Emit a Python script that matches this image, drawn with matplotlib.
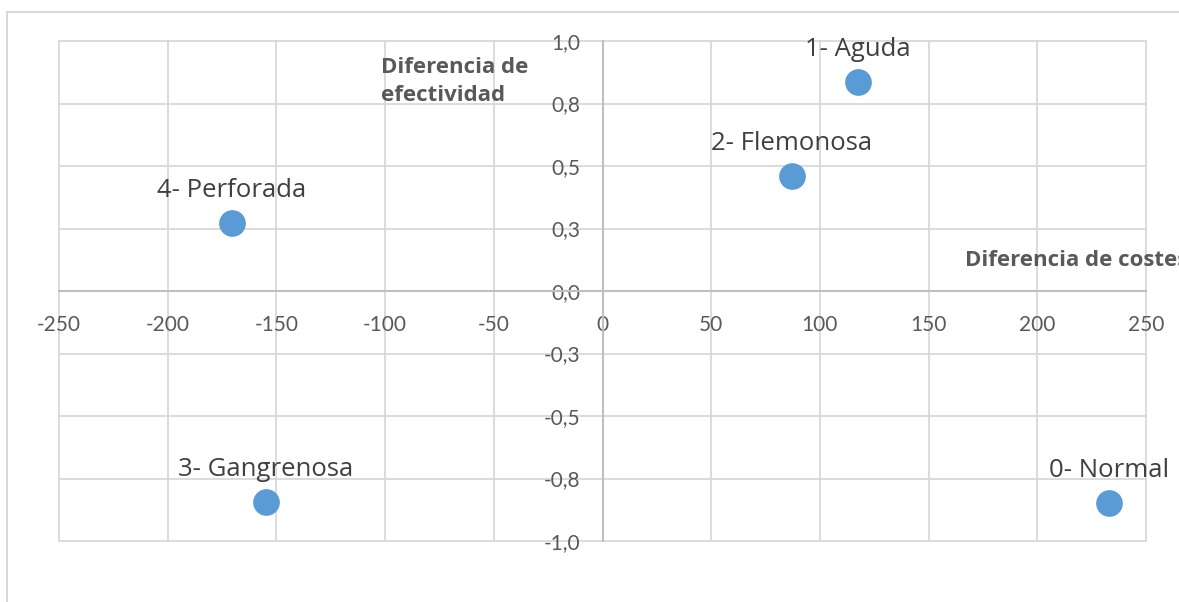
import numpy as np
import matplotlib
matplotlib.use("Agg")
import matplotlib.pyplot as plt
from matplotlib.patches import Rectangle

# ---- data ----
labels = ["0- Normal", "1- Aguda", "2- Flemonosa", "3- Gangrenosa", "4- Perforada"]
cost_diff = [233, 117.5, 87, -155, -170.5]
eff_diff = [-0.848, 0.836, 0.46, -0.845, 0.272]

x_ticks = [-250, -200, -150, -100, -50, 0, 50, 100, 150, 200, 250]
x_tick_labels = ["-250", "-200", "-150", "-100", "-50", "0", "50", "100", "150", "200", "250"]
y_ticks = [-1.0, -0.75, -0.5, -0.25, 0.0, 0.25, 0.5, 0.75, 1.0]
y_tick_labels = ["-1,0", "-0,8", "-0,5", "-0,3", "0,0", "0,3", "0,5", "0,8", "1,0"]

x_title = "Diferencia de costes"
y_title = "Diferencia de\nefectividad"

# ---- style ----
plt.rcParams['font.family'] = ['Lato', 'DejaVu Sans']
W, H = 1179, 602
fig = plt.figure(figsize=(W / 100, H / 100), dpi=100)

# chart area border
fig.patches.append(Rectangle((7 / W, -0.1), 1.2, (H - 12) / H + 0.1, transform=fig.transFigure,
                             fill=False, edgecolor='#d9d9d9', linewidth=1.5, zorder=0))

left, right, top, bottom = 59, 1146, 41, 541
ax = fig.add_axes([left / W, (H - bottom) / H, (right - left) / W, (bottom - top) / H])

ax.set_xlim(-250, 250)
ax.set_ylim(-1, 1)
ax.set_xticks(x_ticks)
ax.set_xticklabels(x_tick_labels)
ax.set_yticks(y_ticks)
ax.set_yticklabels(y_tick_labels)

for s in ['top', 'right']:
    ax.spines[s].set_visible(False)
for s in ['left', 'bottom']:
    ax.spines[s].set_position(('data', 0))
    ax.spines[s].set_color('#bfbfbf')
    ax.spines[s].set_linewidth(1.5)
    ax.spines[s].set_zorder(1)

ax.grid(True, color='#d9d9d9', linewidth=1.3, zorder=0)
ax.set_axisbelow(True)
for gl in ax.get_xgridlines() + ax.get_ygridlines():
    gl.set_clip_on(False)

ax.tick_params(axis='both', length=0, labelsize=15, labelcolor='#595959')
ax.tick_params(axis='x', pad=17)
ax.tick_params(axis='y', pad=16)

ax.scatter(cost_diff, eff_diff, s=370, color='#5b9bd5', zorder=3, linewidths=0, clip_on=False)
for lab, x, y in zip(labels, cost_diff, eff_diff):
    ax.annotate(lab, (x, y), xytext=(0, 19), textcoords='offset points',
                ha='center', va='baseline', fontsize=18.5, color='#404040', zorder=4,
                family=['Open Sans', 'DejaVu Sans'])

fig.text(381 / W, 1 - 101 / H, y_title, ha='left', va='baseline', fontsize=16,
         fontweight='bold', color='#595959', linespacing=1.45,
         family=['Open Sans', 'DejaVu Sans'])
fig.text(965 / W, 1 - 266 / H, x_title, ha='left', va='baseline', fontsize=16,
         fontweight='bold', color='#595959', family=['Open Sans', 'DejaVu Sans'])

fig.savefig("out.png", dpi=100)
